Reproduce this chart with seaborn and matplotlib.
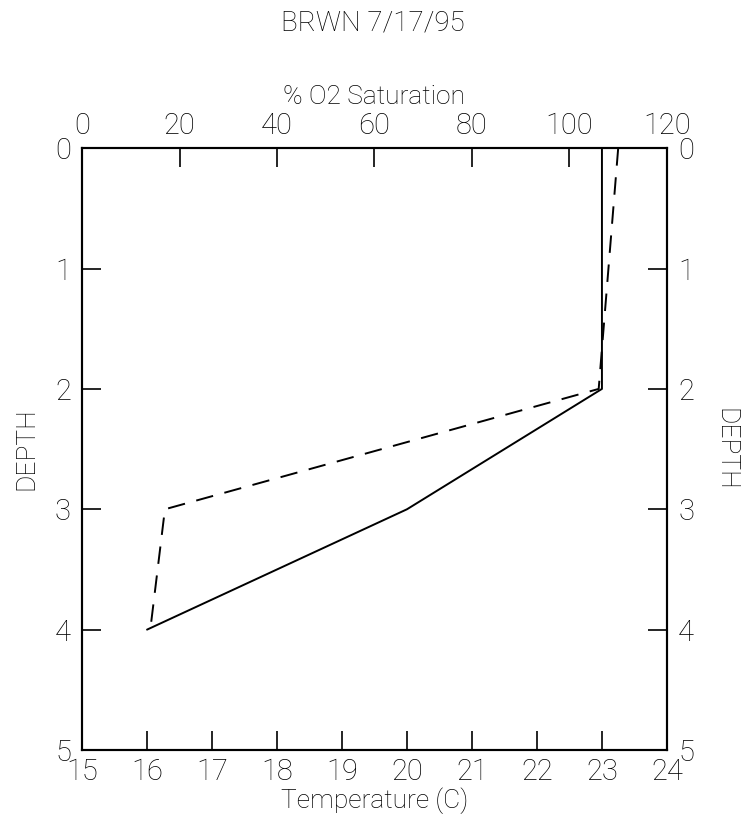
import numpy as np
import pandas as pd
import seaborn as sns
import matplotlib.pyplot as plt

# profile readings at each depth
depth = [0, 1, 2, 3, 4]
temperature = [23.0, 23.0, 23.0, 20.0, 16.0]
o2_saturation = [110, 108, 106, 17, 14]

temp_ticks = [15, 16, 17, 18, 19, 20, 21, 22, 23, 24]
o2_ticks = [0, 20, 40, 60, 80, 100, 120]
depth_ticks = [0, 1, 2, 3, 4, 5]

sns.set_theme(style="white")
plt.rcParams['font.family'] = ['Roboto', 'DejaVu Sans']
plt.rcParams['font.weight'] = 'light'
plt.rcParams['text.color'] = 'black'
plt.rcParams['axes.labelcolor'] = 'black'
plt.rcParams['xtick.color'] = 'black'
plt.rcParams['ytick.color'] = 'black'

df = pd.DataFrame({'Depth': depth, 'Temp': temperature, 'O2': o2_saturation})

fig = plt.figure(figsize=(7.46, 8.21), dpi=100)
ax = fig.add_axes([0.110, 0.0865, 0.784, 0.733])

sns.lineplot(data=df, x='Temp', y='Depth', sort=False, orient='y', estimator=None,
             color='black', linewidth=1.4, ax=ax)
ax.set_xlim(15, 24)
ax.set_ylim(5, 0)
ax.set_xticks(temp_ticks)
ax.set_yticks(depth_ticks)
ax.set_xlabel('Temperature (C)', fontsize=19, fontweight='light', labelpad=1)
ax.set_ylabel('DEPTH', fontsize=19, fontweight='light', labelpad=12)
ax.tick_params(axis='both', direction='in', length=14, width=1.2, labelsize=21,
               left=True, right=True, bottom=True, labelleft=True, labelright=True)
ax.tick_params(axis='x', pad=6)
ax.tick_params(axis='y', pad=8)

ax2 = ax.twiny()
sns.lineplot(data=df, x='O2', y='Depth', sort=False, orient='y', estimator=None,
             color='black', linewidth=1.4, ax=ax2)
ax2.lines[0].set_dashes([9, 6])
ax2.set_xlim(0, 120)
ax2.set_xticks(o2_ticks)
ax2.set_xlabel('% O2 Saturation', fontsize=19, fontweight='light', labelpad=6)
ax2.tick_params(axis='x', direction='in', length=14, width=1.2, labelsize=21, pad=6, top=True)

for a in (ax, ax2):
    for s in a.spines.values():
        s.set_color('black')
        s.set_linewidth(1.5)

fig.text(0.972, 0.453, 'DEPTH', rotation=-90, fontsize=19, fontweight='light',
         color='black', ha='center', va='center')
fig.suptitle('BRWN 7/17/95', fontsize=20, fontweight='light', y=0.988)

plt.savefig('out.png', dpi=100)
